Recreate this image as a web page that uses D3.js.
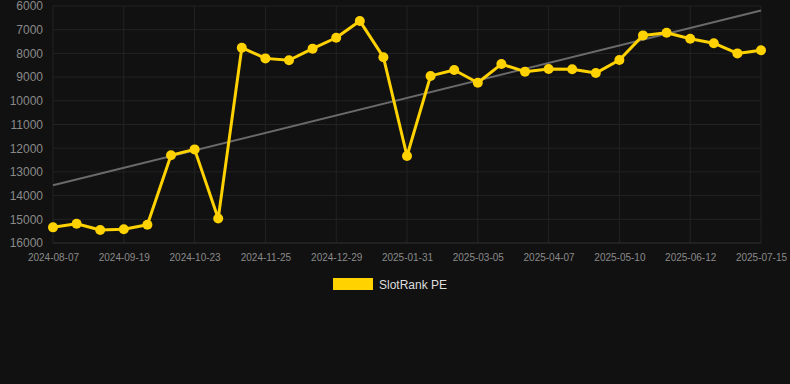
<!DOCTYPE html>
<html><head><meta charset="utf-8">
<script src="https://cdn.jsdelivr.net/npm/d3@7"></script>
<style>html,body{margin:0;padding:0;background:#111111;}svg{display:block;}</style>
</head><body>
<svg id="c" width="790" height="384"></svg>
<script>
const dates = ["2024-08-07","2024-08-21","2024-09-05","2024-09-19","2024-10-01","2024-10-12","2024-10-23","2024-11-03","2024-11-14","2024-11-25","2024-12-06","2024-12-17","2024-12-29","2025-01-09","2025-01-20","2025-01-31","2025-02-11","2025-02-22","2025-03-05","2025-03-16","2025-03-27","2025-04-07","2025-04-18","2025-04-29","2025-05-10","2025-05-21","2025-06-01","2025-06-12","2025-06-23","2025-07-04","2025-07-15"];
const ranks = [15340,15190,15450,15420,15230,12300,12050,14970,7760,8210,8290,7800,7340,6630,8160,12330,8950,8700,9240,8450,8770,8660,8670,8830,8280,7240,7130,7380,7570,8000,7870];
const yTicks = [6000,7000,8000,9000,10000,11000,12000,13000,14000,15000,16000];
const seriesName = "SlotRank PE";

(function(){
const svg = d3.select("#c");
const pL = 53, pR = 761, pT = 6, pB = 243;
const x = d3.scalePoint().domain(dates).range([pL, pR]);
const y = d3.scaleLinear().domain([6000, 16000]).range([pT, pB]);

// grid
const labelDates = dates.filter((d,i)=> i % 3 === 0);
svg.append("g").selectAll("line").data(yTicks.slice(0,-1)).join("line")
  .attr("x1", pL).attr("x2", pR).attr("y1", d=>y(d)).attr("y2", d=>y(d))
  .attr("stroke", "#232323").attr("stroke-width", 1);
svg.append("g").selectAll("line").data(labelDates).join("line")
  .attr("x1", d=>x(d)).attr("x2", d=>x(d)).attr("y1", pT).attr("y2", pB)
  .attr("stroke", "#232323").attr("stroke-width", 1);

// y axis
const yAxis = d3.axisLeft(y).tickValues(yTicks).tickSize(0).tickPadding(10).tickFormat(d3.format("d"));
const gy = svg.append("g").attr("transform", `translate(${pL},0)`).call(yAxis);
gy.select(".domain").remove();
gy.selectAll("text").attr("fill", "#8a8a8a").style("font-family", "Arial, 'Liberation Sans', sans-serif").style("font-size", "12px");

// x axis
const xAxis = d3.axisBottom(x).tickValues(labelDates).tickSize(0).tickPadding(11);
const gx = svg.append("g").attr("transform", `translate(0,${pB})`).call(xAxis);
gx.select(".domain").attr("stroke", "#333333").attr("d", `M${pL},0H${pR}`);
gx.selectAll("text").attr("fill", "#8a8a8a").style("font-family", "Arial, 'Liberation Sans', sans-serif").style("font-size", "10px");

// trend line (least squares of the series)
const n = ranks.length;
const mi = d3.mean(ranks, (d,i)=>i), mv = d3.mean(ranks);
const slope = d3.sum(ranks, (d,i)=>(i-mi)*(d-mv)) / d3.sum(ranks, (d,i)=>(i-mi)*(i-mi));
const trend = [0, n-1].map(i => ({d: dates[i], v: mv + slope*(i-mi)}));
svg.append("path").datum(trend)
  .attr("d", d3.line().x(p=>x(p.d)).y(p=>y(p.v)))
  .attr("stroke", "#6a6a6a").attr("stroke-width", 2).attr("fill", "none");

// series
const color = "#FFD200";
svg.append("path").datum(ranks)
  .attr("d", d3.line().x((d,i)=>x(dates[i])).y(d=>y(d)))
  .attr("stroke", color).attr("stroke-width", 3).attr("fill", "none").attr("stroke-linejoin","round");
svg.append("g").selectAll("circle").data(ranks).join("circle")
  .attr("cx", (d,i)=>x(dates[i])).attr("cy", d=>y(d)).attr("r", 5).attr("fill", color);

// legend
svg.append("rect").attr("x", 333).attr("y", 278).attr("width", 40).attr("height", 12).attr("fill", color);
svg.append("text").attr("x", 379).attr("y", 288.5).text(seriesName)
  .attr("fill", "#dddddd").style("font-family", "Arial, 'Liberation Sans', sans-serif").style("font-size", "12px");
})();
</script>
</body></html>
